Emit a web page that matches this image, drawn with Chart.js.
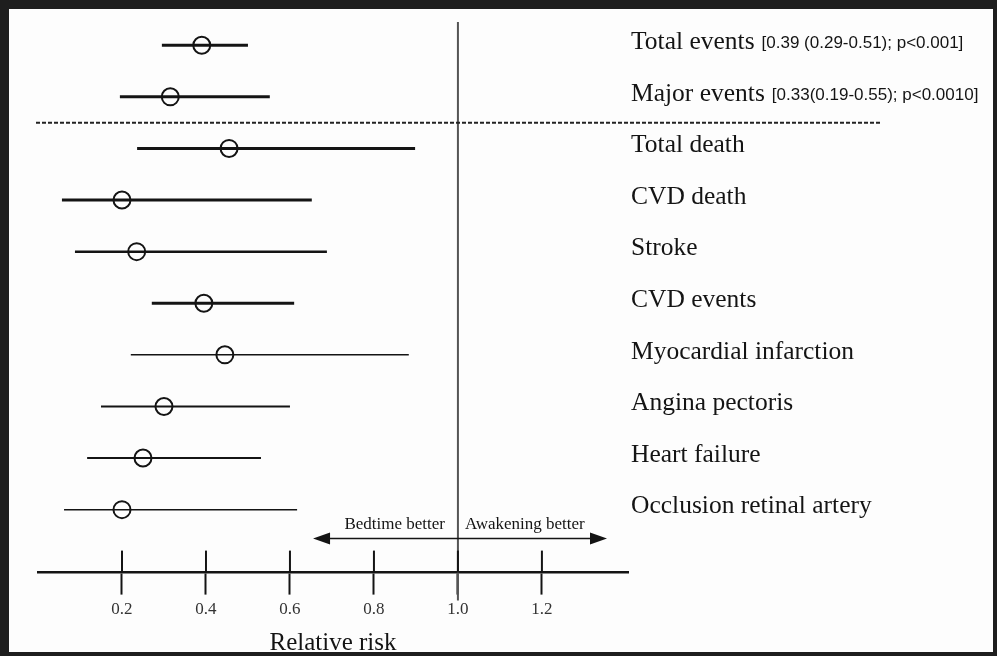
<!DOCTYPE html>
<html>
<head>
<meta charset="utf-8">
<script src="https://cdn.jsdelivr.net/npm/chart.js@4.4.0/dist/chart.umd.min.js"></script>
<style>
  html, body { margin: 0; padding: 0; background: #1e1e1e; }
  #frame { position: absolute; left: 9px; top: 9px; width: 984px; height: 643px; background: #fdfdfd; }
</style>
</head>
<body>
<div id="frame"><canvas id="forest"></canvas></div>
<script>
// outcomes, top to bottom
const outcomes = ['Total events', 'Major events', 'Total death', 'CVD death', 'Stroke',
    'CVD events', 'Myocardial infarction', 'Angina pectoris', 'Heart failure', 'Occlusion retinal artery'];
const stats = ['[0.39 (0.29-0.51); p<0.001]', '[0.33(0.19-0.55); p<0.0010]', '', '', '', '', '', '', '', ''];
// relative risk and 95% CI
const rr    = [0.39, 0.315, 0.455, 0.20, 0.235, 0.395, 0.445, 0.30, 0.25, 0.20];
const lower = [0.295, 0.195, 0.236, 0.057, 0.088, 0.271, 0.221, 0.15, 0.117, 0.062];
const upper = [0.50, 0.552, 0.898, 0.652, 0.688, 0.61, 0.883, 0.60, 0.531, 0.617];
const xTicks = [0.2, 0.4, 0.6, 0.8, 1.0, 1.2];

const lineWidths = [3, 3, 3, 3, 2.5, 3, 1.5, 2, 2, 1.5];
const ink = '#141414';
const serif = '"Liberation Serif", "DejaVu Serif", serif';
const sans = '"Liberation Sans", Arial, sans-serif';

const ciSets = outcomes.map((name, i) => ({
    type: 'line',
    label: name,
    data: [{ x: lower[i], y: i }, { x: upper[i], y: i }],
    borderColor: ink,
    borderWidth: lineWidths[i],
    pointRadius: 0,
    fill: false,
    order: 2
}));

const pointSet = {
    type: 'scatter',
    label: 'RR',
    data: rr.map((v, i) => ({ x: v, y: i })),
    pointStyle: 'circle',
    pointRadius: 8.5,
    borderWidth: 2,
    borderColor: ink,
    backgroundColor: 'rgba(0,0,0,0)',
    order: 1
};

const forestDecor = {
    id: 'forestDecor',
    beforeDatasetsDraw(chart) {
        const { ctx, chartArea, scales: { x, y } } = chart;
        ctx.save();
        // line of no effect
        const x1 = x.getPixelForValue(1.0);
        ctx.strokeStyle = '#555';
        ctx.lineWidth = 2;
        ctx.beginPath();
        ctx.moveTo(x1, chartArea.top);
        ctx.lineTo(x1, chartArea.bottom + 28);
        ctx.stroke();
        // dashed separator between pooled and single outcomes
        const yd = y.getPixelForValue(1.5);
        ctx.strokeStyle = '#222';
        ctx.lineWidth = 2;
        ctx.setLineDash([4, 2]);
        ctx.beginPath();
        ctx.moveTo(chartArea.left - 2, yd);
        ctx.lineTo(871, yd);
        ctx.stroke();
        ctx.restore();
    },
    afterDraw(chart) {
        const { ctx, chartArea, scales: { x, y } } = chart;
        ctx.save();
        // upper half of the tick marks (lower half comes from the grid)
        ctx.strokeStyle = ink;
        ctx.lineWidth = 2;
        xTicks.forEach(v => {
            const px = x.getPixelForValue(v);
            ctx.beginPath();
            ctx.moveTo(px, chartArea.bottom - 22);
            ctx.lineTo(px, chartArea.bottom);
            ctx.stroke();
        });
        // outcome labels on the right
        ctx.fillStyle = ink;
        ctx.textBaseline = 'middle';
        outcomes.forEach((name, i) => {
            const py = y.getPixelForValue(i) - 3;
            ctx.font = '25.5px ' + serif;
            ctx.fillText(name, 622, py);
            if (stats[i]) {
                const w = ctx.measureText(name).width;
                ctx.font = '17px ' + sans;
                ctx.fillText(stats[i], 622 + w + 7, py + 1);
            }
        });
        // direction arrow
        const ya = chartArea.bottom - 34;
        const xa = x.getPixelForValue(0.655), xb = x.getPixelForValue(1.355);
        ctx.lineWidth = 1.5;
        ctx.beginPath();
        ctx.moveTo(xa + 10, ya);
        ctx.lineTo(xb - 10, ya);
        ctx.stroke();
        ctx.beginPath();
        ctx.moveTo(xa, ya); ctx.lineTo(xa + 17, ya - 6); ctx.lineTo(xa + 17, ya + 6); ctx.closePath();
        ctx.moveTo(xb, ya); ctx.lineTo(xb - 17, ya - 6); ctx.lineTo(xb - 17, ya + 6); ctx.closePath();
        ctx.fill();
        const x1 = x.getPixelForValue(1.0);
        ctx.font = '17px ' + serif;
        ctx.textBaseline = 'alphabetic';
        ctx.textAlign = 'right';
        ctx.fillText('Bedtime better', x1 - 13, ya - 10);
        ctx.textAlign = 'left';
        ctx.fillText('Awakening better', x1 + 7, ya - 10);
        ctx.restore();
    }
};

new Chart(document.getElementById('forest'), {
    data: { datasets: [pointSet, ...ciSets] },
    options: {
        responsive: true,
        maintainAspectRatio: false,
        animation: false,
        layout: { padding: { left: 29, right: 365, top: 13, bottom: -2 } },
        plugins: { legend: { display: false }, tooltip: { enabled: false } },
        scales: {
            x: {
                type: 'linear',
                min: 0,
                max: 1.405,
                afterBuildTicks: scale => { scale.ticks = xTicks.map(v => ({ value: v })); },
                border: { display: true, color: ink, width: 2.5 },
                grid: { drawOnChartArea: false, drawTicks: true, tickLength: 22, tickWidth: 2, tickColor: ink },
                ticks: {
                    color: '#333',
                    padding: 5,
                    font: { family: serif, size: 17 },
                    callback: v => v.toFixed(1)
                },
                title: {
                    display: true,
                    text: 'Relative risk',
                    color: ink,
                    font: { family: serif, size: 25, lineHeight: 0.88 },
                    padding: { top: 7, bottom: 0 }
                }
            },
            y: {
                type: 'linear',
                display: false,
                reverse: true,
                min: -0.45,
                max: 10.22
            }
        }
    },
    plugins: [forestDecor]
});
</script>
</body>
</html>
